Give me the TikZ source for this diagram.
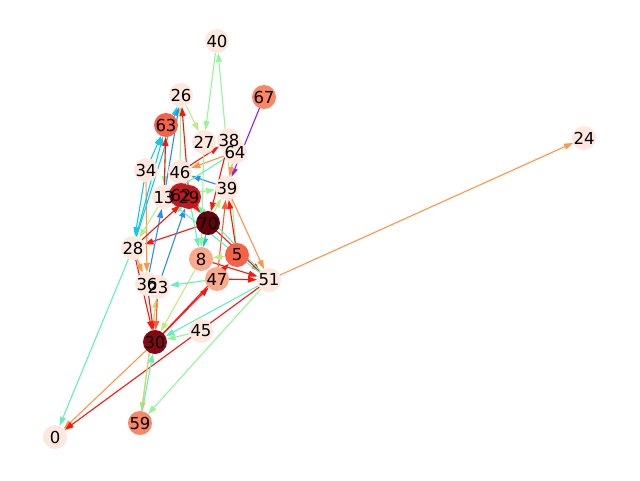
\documentclass[tikz,border=0pt]{standalone}
\usepackage{fontspec}
\setmainfont{DejaVu Sans}
\usepackage{tikz}
\usetikzlibrary{arrows.meta,backgrounds}
%% node colours (Reds)
\definecolor{pale}{RGB}{254,232,222}
\definecolor{salmon}{RGB}{252,168,139}
\definecolor{coralnode}{RGB}{251,134,102}
\definecolor{tomato}{RGB}{245,98,70}
\definecolor{crimson}{RGB}{198,24,30}
\definecolor{deepred}{RGB}{134,8,20}
\definecolor{darkest}{RGB}{103,0,13}
%% edge colours (rainbow)
\definecolor{cpurple}{RGB}{140,30,255}
\definecolor{cblue}{RGB}{40,140,250}
\definecolor{ccyan}{RGB}{20,200,225}
\definecolor{caqua}{RGB}{100,240,190}
\definecolor{cgreen}{RGB}{150,245,150}
\definecolor{cygreen}{RGB}{190,235,130}
\definecolor{cyellow}{RGB}{215,210,110}
\definecolor{corange}{RGB}{255,150,70}
\definecolor{ccoral}{RGB}{255,90,50}
\definecolor{cred}{RGB}{255,20,10}

\begin{document}
\begin{tikzpicture}[x=1pt,y=-1pt,
    vert/.style={circle, inner sep=0pt, outer sep=0pt, minimum size=24pt},
    edge/.style={line width=1.1pt, -{Triangle[length=9pt,width=6pt]}},
    lbl/.style={inner sep=0pt, font=\fontsize{16.5}{18}\selectfont}]
    %% Background
    \useasboundingbox (0,0) rectangle (640,480);
    %% Vertices
    \foreach \n/\x/\y/\c in {40/217/41/pale, 26/181/95/pale, 67/264/97/coralnode,
        63/166/125/tomato, 27/204/142/pale, 38/229/140/pale, 64/235/152/pale,
        24/584/138/pale, 34/146/170/pale, 46/180/172/pale, 39/227/188/pale,
        13/164/197/pale, 62/181/195/crimson, 29/189/197/crimson, 70/208/223/darkest,
        28/133/248/pale, 8/201/259/salmon, 5/237/255/tomato, 47/217/279/salmon,
        51/269/280/pale, 36/147/284/pale, 23/158/287/pale, 45/201/331/pale,
        30/155/342/deepred, 0/55/437/pale, 59/140/423/coralnode}
    {
        \node[vert, fill=\c] (n\n) at (\x,\y) {};
    }
    %% Edges
    \begin{pgfonlayer}{background}
    \foreach \a/\b/\c in {40/27/cgreen, 5/40/cgreen, 67/39/cpurple, 26/27/cygreen,
        51/24/corange, 28/0/caqua, 30/0/corange, 51/0/cred, 51/30/caqua,
        45/30/cgreen, 51/59/cgreen, 23/59/cyellow, 59/23/cyellow, 59/30/caqua,
        30/47/cred, 30/5/cred, 47/51/cred, 8/51/cred, 70/51/cred, 39/51/corange,
        5/39/cred, 47/39/ccoral, 70/28/cred, 28/30/cred, 36/30/cred, 23/30/ccoral,
        8/30/cygreen, 47/23/caqua, 34/36/corange, 28/36/corange, 23/29/cblue,
        36/13/cblue, 63/13/cgreen, 34/63/ccyan, 28/63/ccyan, 28/26/ccyan,
        34/28/ccyan, 13/26/cblue, 46/26/cgreen, 13/63/cred, 29/26/cred,
        46/38/cred, 64/46/corange, 39/46/cblue, 64/39/corange, 13/39/cgreen,
        64/13/caqua, 38/70/cred, 29/70/cred, 70/8/ccyan, 29/8/caqua,
        5/8/cygreen, 70/39/cygreen, 51/29/caqua, 51/13/caqua, 28/29/cred,
        13/28/cygreen, 27/8/cgreen}
    {
        \draw[edge, \c] (n\a) -- (n\b);
    }
    \end{pgfonlayer}
    %% Labels
    \foreach \n in {40,26,67,63,27,38,64,24,34,46,39,13,62,29,70,28,8,5,47,51,36,23,45,30,0,59}
    {
        \node[lbl] at (n\n) {\n};
    }
\end{tikzpicture}
\end{document}
